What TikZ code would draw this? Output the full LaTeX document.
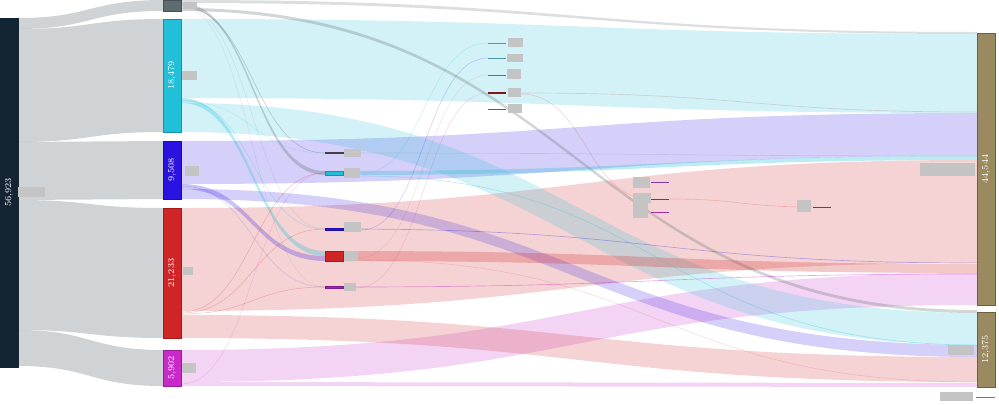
\documentclass[tikz,border=0pt]{standalone}
\usepackage{tikz}

\tikzset{every picture/.style={line width=0.75pt}}
\tikzset{
  barlabel/.style={text={rgb, 255:red, 255; green, 255; blue, 255 }, rotate=90, font=\fontsize{6.8}{7}\selectfont, inner sep=0pt},
  flowline/.style={line width=0.5pt, draw opacity=0.22},
}

\begin{document}
\begin{tikzpicture}[x=0.75pt,y=0.75pt,yscale=-1,xscale=1]
	\useasboundingbox (0,0) rectangle (999,404);

	%Flows: source to second column
	\fill [fill={rgb, 255:red, 19; green, 36; blue, 51 }, fill opacity=0.2] (18,18) .. controls (90,18) and (90,0) .. (163,0) -- (163,11) .. controls (90,11) and (90,29) .. (18,29) -- cycle ;
	\fill [fill={rgb, 255:red, 19; green, 36; blue, 51 }, fill opacity=0.2] (18,29) .. controls (90,29) and (90,19) .. (163,19) -- (163,132) .. controls (90,132) and (90,142) .. (18,142) -- cycle ;
	\fill [fill={rgb, 255:red, 19; green, 36; blue, 51 }, fill opacity=0.2] (18,142) .. controls (90,142) and (90,141) .. (163,141) -- (163,199) .. controls (90,199) and (90,200) .. (18,200) -- cycle ;
	\fill [fill={rgb, 255:red, 19; green, 36; blue, 51 }, fill opacity=0.2] (18,200) .. controls (90,200) and (90,208) .. (163,208) -- (163,338) .. controls (90,338) and (90,330) .. (18,330) -- cycle ;
	\fill [fill={rgb, 255:red, 19; green, 36; blue, 51 }, fill opacity=0.2] (18,330) .. controls (90,330) and (90,350) .. (163,350) -- (163,386) .. controls (90,386) and (90,366) .. (18,366) -- cycle ;

	%Flows: second column to targets
	\fill [fill={rgb, 255:red, 94; green, 107; blue, 112 }, fill opacity=0.22] (181,0) .. controls (579,0) and (579,32) .. (977,32) -- (977,34) .. controls (579,34) and (579,3) .. (181,3) -- cycle ;
	\fill [fill={rgb, 255:red, 34; green, 191; blue, 216 }, fill opacity=0.2] (181,19) .. controls (579,19) and (579,34) .. (977,34) -- (977,113) .. controls (579,113) and (579,98) .. (181,98) -- cycle ;
	\fill [fill={rgb, 255:red, 42; green, 19; blue, 224 }, fill opacity=0.2] (181,141) .. controls (579,141) and (579,113) .. (977,113) -- (977,156) .. controls (579,156) and (579,184) .. (181,184) -- cycle ;
	\fill [fill={rgb, 255:red, 207; green, 37; blue, 38 }, fill opacity=0.2] (181,208) .. controls (579,208) and (579,160) .. (977,160) -- (977,263) .. controls (579,263) and (579,311) .. (181,311) -- cycle ;
	\fill [fill={rgb, 255:red, 200; green, 41; blue, 200 }, fill opacity=0.2] (181,350) .. controls (579,350) and (579,273) .. (977,273) -- (977,305) .. controls (579,305) and (579,382) .. (181,382) -- cycle ;
	\fill [fill={rgb, 255:red, 34; green, 191; blue, 216 }, fill opacity=0.2] (181,103) .. controls (579,103) and (579,313) .. (977,313) -- (977,345) .. controls (579,345) and (579,132) .. (181,132) -- cycle ;
	\fill [fill={rgb, 255:red, 42; green, 19; blue, 224 }, fill opacity=0.2] (181,189) .. controls (579,189) and (579,345) .. (977,345) -- (977,357) .. controls (579,357) and (579,199) .. (181,199) -- cycle ;
	\fill [fill={rgb, 255:red, 207; green, 37; blue, 38 }, fill opacity=0.2] (181,315) .. controls (579,315) and (579,357) .. (977,357) -- (977,382) .. controls (579,382) and (579,338) .. (181,338) -- cycle ;
	\fill [fill={rgb, 255:red, 200; green, 41; blue, 200 }, fill opacity=0.2] (181,382) .. controls (579,382) and (579,383) .. (977,383) -- (977,387) .. controls (579,387) and (579,386) .. (181,386) -- cycle ;
	\fill [fill={rgb, 255:red, 94; green, 107; blue, 112 }, fill opacity=0.28] (181,8) .. controls (579,8) and (579,310) .. (977,310) -- (977,313) .. controls (579,313) and (579,11) .. (181,11) -- cycle ;

	%Flows: second column to middle nodes
	\fill [fill={rgb, 255:red, 94; green, 107; blue, 112 }, fill opacity=0.3] (181,3) .. controls (253,3) and (253,171) .. (325,171) -- (325,175) .. controls (253,175) and (253,6) .. (181,6) -- cycle ;
	\fill [fill={rgb, 255:red, 34; green, 191; blue, 216 }, fill opacity=0.3] (181,98) .. controls (253,98) and (253,251) .. (325,251) -- (325,256) .. controls (253,256) and (253,103) .. (181,103) -- cycle ;
	\fill [fill={rgb, 255:red, 42; green, 19; blue, 224 }, fill opacity=0.25] (181,184) .. controls (253,184) and (253,256) .. (325,256) -- (325,261) .. controls (253,261) and (253,189) .. (181,189) -- cycle ;

	%Flows: middle nodes to targets
	\fill [fill={rgb, 255:red, 34; green, 191; blue, 216 }, fill opacity=0.3] (343,171) .. controls (660,171) and (660,156) .. (977,156) -- (977,160) .. controls (660,160) and (660,175) .. (343,175) -- cycle ;
	\fill [fill={rgb, 255:red, 207; green, 37; blue, 38 }, fill opacity=0.25] (343,251) .. controls (660,251) and (660,264) .. (977,264) -- (977,273) .. controls (660,273) and (660,261) .. (343,261) -- cycle ;
	\draw [flowline, draw={rgb, 255:red, 42; green, 19; blue, 224 }, draw opacity=0.3] (343,229) .. controls (660,229) and (660,263) .. (977,263) ;
	\draw [flowline, draw={rgb, 255:red, 200; green, 41; blue, 200 }, draw opacity=0.4] (343,287) .. controls (660,287) and (660,274) .. (977,274) ;
	\draw [flowline, draw={rgb, 255:red, 94; green, 107; blue, 112 }, draw opacity=0.15] (343,153) .. controls (660,153) and (660,156) .. (977,156) ;

	%Thin flows
	\draw [flowline, draw={rgb, 255:red, 94; green, 107; blue, 112 }, draw opacity=0.3] (181,7) .. controls (253,7) and (253,153) .. (325,153) ;
	\draw [flowline, draw={rgb, 255:red, 94; green, 107; blue, 112 }, draw opacity=0.12] (181,6) .. controls (253,6) and (253,229) .. (325,229) ;
	\draw [flowline, draw={rgb, 255:red, 94; green, 107; blue, 112 }, draw opacity=0.12] (181,7) .. controls (253,7) and (253,287) .. (325,287) ;
	\draw [flowline, draw={rgb, 255:red, 34; green, 191; blue, 216 }] (181,100) .. controls (253,100) and (253,229) .. (325,229) ;
	\draw [flowline, draw={rgb, 255:red, 34; green, 191; blue, 216 }, draw opacity=0.15] (181,101) .. controls (253,101) and (253,153) .. (325,153) ;
	\draw [flowline, draw={rgb, 255:red, 42; green, 19; blue, 224 }, draw opacity=0.15] (181,186) .. controls (253,186) and (253,287) .. (325,287) ;
	\draw [flowline, draw={rgb, 255:red, 207; green, 37; blue, 38 }] (181,312) .. controls (253,312) and (253,173) .. (325,173) ;
	\draw [flowline, draw={rgb, 255:red, 207; green, 37; blue, 38 }] (181,313) .. controls (253,313) and (253,229) .. (325,229) ;
	\draw [flowline, draw={rgb, 255:red, 207; green, 37; blue, 38 }] (181,314) .. controls (253,314) and (253,287) .. (325,287) ;
	\draw [flowline, draw={rgb, 255:red, 200; green, 41; blue, 200 }, draw opacity=0.15] (181,384) .. controls (253,384) and (253,173) .. (325,173) ;
	\draw [flowline, draw={rgb, 255:red, 34; green, 191; blue, 216 }, draw opacity=0.2] (361,174) .. controls (424,174) and (424,43) .. (488,43) ;
	\draw [flowline, draw={rgb, 255:red, 42; green, 19; blue, 224 }, draw opacity=0.18] (361,230) .. controls (424,230) and (424,58) .. (488,58) ;
	\draw [flowline, draw={rgb, 255:red, 200; green, 41; blue, 200 }, draw opacity=0.18] (356,288) .. controls (424,288) and (424,93) .. (488,93) ;
	\draw [flowline, draw={rgb, 255:red, 207; green, 37; blue, 38 }, draw opacity=0.12] (358,258) .. controls (424,258) and (424,75) .. (488,75) ;
	\draw [flowline, draw={rgb, 255:red, 34; green, 191; blue, 216 }, draw opacity=0.3] (361,176) .. controls (660,176) and (660,345) .. (977,345) ;
	\draw [flowline, draw={rgb, 255:red, 150; green, 50; blue, 50 }, draw opacity=0.18] (521,93) .. controls (749,93) and (749,112) .. (977,112) ;
	\draw [flowline, draw={rgb, 255:red, 207; green, 37; blue, 38 }, draw opacity=0.18] (521,94) .. controls (586,94) and (586,199) .. (651,199) ;
	\draw [flowline, draw={rgb, 255:red, 207; green, 37; blue, 38 }, draw opacity=0.15] (358,260) .. controls (660,260) and (660,382) .. (977,382) ;
	\draw [flowline, draw={rgb, 255:red, 207; green, 37; blue, 38 }, draw opacity=0.2] (669,199) .. controls (741,199) and (741,207) .. (813,207) ;

	%Bars: source and second column
	\draw [draw={rgb, 255:red, 19; green, 36; blue, 51 }, fill={rgb, 255:red, 19; green, 36; blue, 51 }] (0,18) rectangle (18,367) ;
	\draw [draw={rgb, 255:red, 70; green, 80; blue, 85 }, fill={rgb, 255:red, 94; green, 107; blue, 112 }] (163,0) rectangle (181,11) ;
	\draw [draw={rgb, 255:red, 25; green, 145; blue, 165 }, fill={rgb, 255:red, 34; green, 191; blue, 216 }] (163,19) rectangle (181,132) ;
	\draw [draw={rgb, 255:red, 30; green, 12; blue, 170 }, fill={rgb, 255:red, 42; green, 19; blue, 224 }] (163,141) rectangle (181,199) ;
	\draw [draw={rgb, 255:red, 160; green, 28; blue, 29 }, fill={rgb, 255:red, 207; green, 37; blue, 38 }] (163,208) rectangle (181,338) ;
	\draw [draw={rgb, 255:red, 150; green, 30; blue, 150 }, fill={rgb, 255:red, 200; green, 41; blue, 200 }] (163,350) rectangle (181,386) ;

	%Bars: targets
	\draw [draw={rgb, 255:red, 110; green, 96; blue, 62 }, fill={rgb, 255:red, 155; green, 138; blue, 96 }] (977,33) rectangle (995,305) ;
	\draw [draw={rgb, 255:red, 110; green, 96; blue, 62 }, fill={rgb, 255:red, 155; green, 138; blue, 96 }] (977,312) rectangle (995,387) ;

	%Middle nodes
	\draw [draw={rgb, 255:red, 60; green, 66; blue, 70 }, fill={rgb, 255:red, 94; green, 107; blue, 112 }, line width=0.4] (325,152.5) rectangle (343,153.5) ;
	\draw [draw={rgb, 255:red, 25; green, 145; blue, 165 }, fill={rgb, 255:red, 34; green, 191; blue, 216 }, line width=0.5] (325,171) rectangle (343,175) ;
	\draw [draw={rgb, 255:red, 30; green, 12; blue, 170 }, fill={rgb, 255:red, 42; green, 19; blue, 224 }, line width=0.4] (325,228) rectangle (343,230) ;
	\draw [draw={rgb, 255:red, 160; green, 28; blue, 29 }, fill={rgb, 255:red, 207; green, 37; blue, 38 }, line width=0.5] (325,251) rectangle (343,261) ;
	\draw [draw={rgb, 255:red, 130; green, 25; blue, 140 }, fill={rgb, 255:red, 160; green, 35; blue, 170 }, line width=0.4] (325,286) rectangle (343,288) ;

	\draw [draw={rgb, 255:red, 110; green, 140; blue, 145 }] (488,43) -- (506,43) ;
	\draw [draw={rgb, 255:red, 80; green, 150; blue, 170 }] (488,58) -- (506,58) ;
	\draw [draw={rgb, 255:red, 90; green, 100; blue, 190 }] (488,75) -- (506,75) ;
	\draw [draw={rgb, 255:red, 130; green, 20; blue, 20 }, line width=1.5] (488,93) -- (506,93) ;
	\draw [draw={rgb, 255:red, 140; green, 60; blue, 150 }] (488,109) -- (506,109) ;

	\draw [draw={rgb, 255:red, 120; green, 60; blue, 170 }] (651,182) -- (669,182) ;
	\draw [draw={rgb, 255:red, 150; green, 50; blue, 50 }] (651,199) -- (669,199) ;
	\draw [draw={rgb, 255:red, 150; green, 50; blue, 160 }] (651,212) -- (669,212) ;
	\draw [draw={rgb, 255:red, 150; green, 50; blue, 50 }] (813,207) -- (831,207) ;

	%Label boxes
	\fill [fill={rgb, 255:red, 196; green, 196; blue, 196 }] (18,187) rectangle (45,197) ;
	\fill [fill={rgb, 255:red, 196; green, 196; blue, 196 }] (183,2) rectangle (197,9) ;
	\fill [fill={rgb, 255:red, 196; green, 196; blue, 196 }] (182,71) rectangle (197,80) ;
	\fill [fill={rgb, 255:red, 196; green, 196; blue, 196 }] (185,166) rectangle (199,176) ;
	\fill [fill={rgb, 255:red, 196; green, 196; blue, 196 }] (183,267) rectangle (193,275) ;
	\fill [fill={rgb, 255:red, 196; green, 196; blue, 196 }] (182,363) rectangle (196,373) ;
	\fill [fill={rgb, 255:red, 196; green, 196; blue, 196 }] (344,149) rectangle (361,157) ;
	\fill [fill={rgb, 255:red, 196; green, 196; blue, 196 }] (344,168) rectangle (360,178) ;
	\fill [fill={rgb, 255:red, 196; green, 196; blue, 196 }] (344,222) rectangle (361,232) ;
	\fill [fill={rgb, 255:red, 196; green, 196; blue, 196 }] (344,251) rectangle (358,261) ;
	\fill [fill={rgb, 255:red, 196; green, 196; blue, 196 }] (344,283) rectangle (356,291) ;
	\fill [fill={rgb, 255:red, 196; green, 196; blue, 196 }] (508,38) rectangle (523,47) ;
	\fill [fill={rgb, 255:red, 196; green, 196; blue, 196 }] (507,54) rectangle (523,62) ;
	\fill [fill={rgb, 255:red, 196; green, 196; blue, 196 }] (507,69) rectangle (521,79) ;
	\fill [fill={rgb, 255:red, 196; green, 196; blue, 196 }] (508,88) rectangle (521,97) ;
	\fill [fill={rgb, 255:red, 196; green, 196; blue, 196 }] (508,104) rectangle (522,113) ;
	\fill [fill={rgb, 255:red, 196; green, 196; blue, 196 }] (633,177) rectangle (650,188) ;
	\fill [fill={rgb, 255:red, 196; green, 196; blue, 196 }] (633,193) rectangle (651,203) ;
	\fill [fill={rgb, 255:red, 196; green, 196; blue, 196 }] (633,203) rectangle (648,218) ;
	\fill [fill={rgb, 255:red, 196; green, 196; blue, 196 }] (797,200) rectangle (811,212) ;
	\fill [fill={rgb, 255:red, 196; green, 196; blue, 196 }] (920,163) rectangle (975,176) ;
	\fill [fill={rgb, 255:red, 196; green, 196; blue, 196 }] (948,345) rectangle (974,355) ;
	\fill [fill={rgb, 255:red, 196; green, 196; blue, 196 }] (940,392) rectangle (973,401) ;
	\draw [draw={rgb, 255:red, 120; green, 120; blue, 120 }, line width=0.6] (976,397) -- (995,397) ;

	% Text Node
	\node [barlabel] (total) at (9,192.5) {56,923};
	% Text Node
	\node [barlabel] (cyanval) at (172,75.5) {18,479};
	% Text Node
	\node [barlabel] (blueval) at (172,170) {9,508};
	% Text Node
	\node [barlabel] (redval) at (172,273) {21,233};
	% Text Node
	\node [barlabel] (magval) at (172,368) {5,902};
	% Text Node
	\node [barlabel] (bigval) at (986,169) {44,544};
	% Text Node
	\node [barlabel] (smallval) at (986,349.5) {12,375};

\end{tikzpicture}
\end{document}
